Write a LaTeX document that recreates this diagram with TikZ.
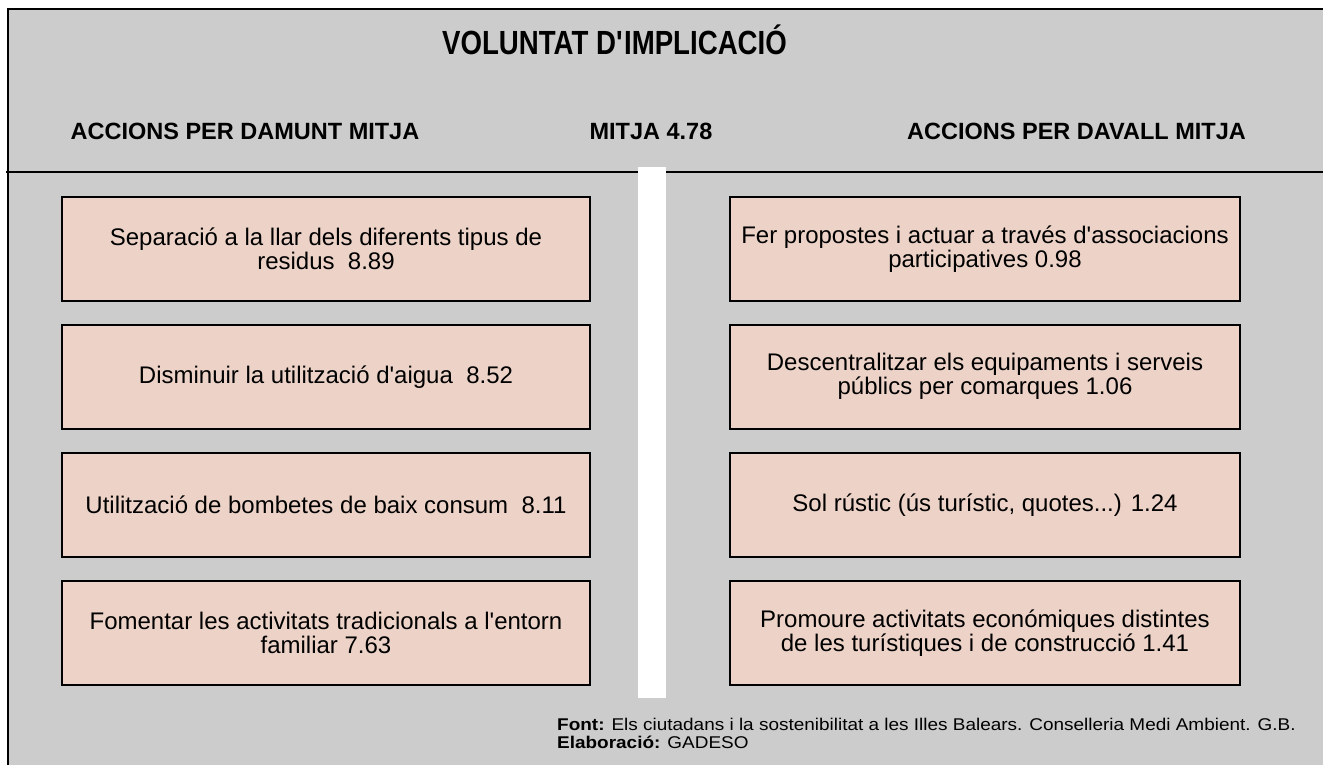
\documentclass[tikz,border=0pt]{standalone}
\usepackage{fontspec}
\setmainfont{Liberation Sans}
\newfontfamily\narrowfont[FakeStretch=0.825]{Liberation Sans}
\newfontfamily\widefont[FakeStretch=1.115]{Liberation Sans}
\usepackage{tikz}
\usetikzlibrary{
    positioning            % Relative positioning
}
\definecolor{panelgray}{RGB}{204,204,204}
\definecolor{boxrose}{RGB}{237,211,199}
\tikzset{actbox/.style={
    draw=black, line width=2pt, fill=boxrose,
    minimum width=528pt, minimum height=103.5pt,
    align=center, inner sep=0pt,
    font=\fontsize{24}{24}\selectfont
}}
\tikzset{colhead/.style={
    anchor=base, inner sep=0pt,
    font=\bfseries\fontsize{23.5}{28}\selectfont
}}
\tikzset{srcnote/.style={
    anchor=base west, inner sep=0pt,
    font=\widefont\fontsize{17}{18}\selectfont
}}

\begin{document}
\begin{tikzpicture}[x=1pt,y=-1pt,node distance=22.5pt]
    \useasboundingbox (0,0) rectangle (1323,765);
    % panel and rules
    \fill[panelgray] (8,9) rectangle (1323,765);
    \draw[line width=2.5pt] (8,765) -- (8,9) -- (1323,9);
    \draw[line width=2.5pt] (6,172) -- (1323,172);
    \fill[white] (638,167) rectangle (666,698);

    % headings
    \node[anchor=base, inner sep=0pt, font=\narrowfont\bfseries\fontsize{33.5}{40}\selectfont]
        (title) at (614.5,55) {VOLUNTAT D\textquotesingle IMPLICACIÓ};
    \node[colhead] (hdamunt) at (245,140) {ACCIONS PER DAMUNT MITJA};
    \node[colhead] (hmitja) at (651,140) {MITJA 4.78};
    \node[colhead] (hdavall) at (1076.5,140) {ACCIONS PER DAVALL MITJA};

    % actions above the mean
    \node[actbox] (l1) at (326,248.75) {Separació a la llar dels diferents tipus de\\residus~ 8.89};
    \node[actbox, below=of l1] (l2) {Disminuir la utilització d\textquotesingle aigua~ 8.52};
    \node[actbox, below=of l2] (l3) {Utilització de bombetes de baix consum~ 8.11};
    \node[actbox, below=of l3] (l4) {Fomentar les activitats tradicionals a l\textquotesingle entorn\\familiar 7.63};

    % actions below the mean
    \node[actbox, minimum width=510pt] (r1) at (985,248.75) {Fer propostes i actuar a través d\textquotesingle associacions\\participatives 0.98};
    \node[actbox, minimum width=510pt, below=of r1] (r2) {Descentralitzar els equipaments i serveis\\públics per comarques 1.06};
    \node[actbox, minimum width=510pt, below=of r2] (r3) {Sol rústic (ús turístic, quotes...) 1.24};
    \node[actbox, minimum width=510pt, below=of r3] (r4) {Promoure activitats económiques distintes\\de les turístiques i de construcció 1.41};

    % source
    \node[srcnote] (src) at (557,730) {\textbf{Font:} Els ciutadans i la sostenibilitat a les Illes Balears. Conselleria Medi Ambient. G.B.};
    \node[srcnote] (elab) at ([yshift=-18pt]src.base west) {\textbf{Elaboració:} GADESO};
\end{tikzpicture}
\end{document}
